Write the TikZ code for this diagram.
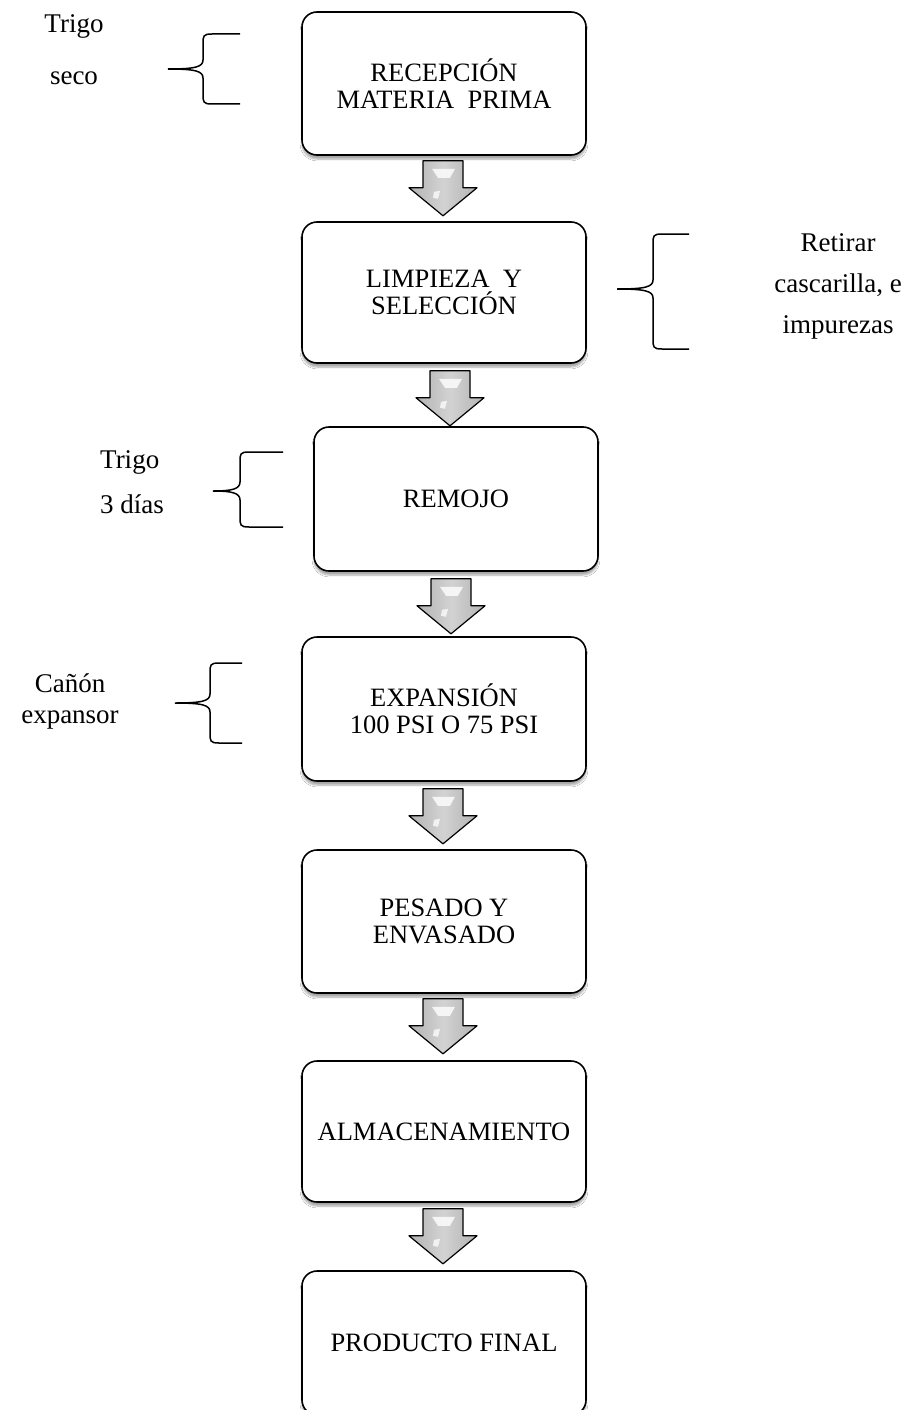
\documentclass[tikz,border=0pt]{standalone}
\usepackage{fontspec}
\setmainfont{Liberation Serif}
\usetikzlibrary{shadows.blur,calc}

% curly brace opening to the right: tip x, spine x, arm end x, top y, middle y, bottom y
\newcommand\curlybrace[6]{%
  \draw[bracestyle]
    (#3,#4) -- ($(#2,#4)+(9,0)$)
    .. controls (#2,#4) and (#2,#4+2) .. (#2,#4+10)
    -- (#2,#5-9)
    .. controls (#2,#5-2) and (#2-8,#5) .. (#1,#5)
    .. controls (#2-8,#5) and (#2,#5+2) .. (#2,#5+9)
    -- (#2,#6-10)
    .. controls (#2,#6-2) and (#2,#6) .. ($(#2,#6)+(9,0)$)
    -- (#3,#6);}

% block arrow hanging from a coordinate at its tail centre
\newcommand\blockarrow[1]{%
  \path[arrowbody] ($(#1)+(-20,0)$) -- ($(#1)+(20,0)$) -- ($(#1)+(20,27)$) -- ($(#1)+(34,27)$)
    -- ($(#1)+(0,55)$) -- ($(#1)+(-34,27)$) -- ($(#1)+(-20,27)$) -- cycle;
  \fill[white,opacity=0.8] ($(#1)+(-11,8)$) -- ($(#1)+(12,8)$) -- ($(#1)+(7,17)$) -- ($(#1)+(-5,17)$) -- cycle;
  \fill[white,opacity=0.75] ($(#1)+(-9,31)$) -- ($(#1)+(-3,30)$) -- ($(#1)+(-5,38)$) -- ($(#1)+(-10,37)$) -- cycle;}

\tikzset{
  stepbox/.style={draw=black, line width=1.6pt, rounded corners=15pt, fill=white,
    minimum width=284pt, align=center, inner sep=4pt,
    font=\fontsize{26.5}{27}\selectfont,
    blur shadow={shadow xshift=0pt, shadow yshift=-4pt, shadow blur steps=6, shadow opacity=35}},
  sidelabel/.style={align=center, inner sep=0pt},
  bracestyle/.style={draw=black, line width=1.5pt},
  arrowbody/.style={draw=black, line width=1.2pt, line join=round,
    left color=gray!60, right color=gray!60, middle color=gray!35}
}

\begin{document}
\begin{tikzpicture}[x=1pt, y=-1pt]
  \useasboundingbox (0,0) rectangle (904,1410);
  \clip (0,0) rectangle (904,1410);
  \fill[white] (0,0) rectangle (904,1410);

  % process steps
  \node[stepbox, minimum height=143pt] (b1) at (444,83.5) {RECEPCIÓN\\MATERIA\ \ PRIMA};
  \node[stepbox, minimum height=141pt] (b2) at (444,292.5) {LIMPIEZA\ \ Y\\SELECCIÓN};
  \node[stepbox, minimum height=144pt] (b3) at (456,499) {REMOJO};
  \node[stepbox, minimum height=144pt] (b4) at (444,709) {EXPANSIÓN\\100 PSI O 75 PSI};
  \node[stepbox, minimum height=143pt] (b5) at (444,921.5) {PESADO Y\\ENVASADO};
  \node[stepbox, minimum height=141pt] (b6) at (444,1131.5) {ALMACENAMIENTO};
  \node[stepbox, minimum height=144pt] (b7) at (444,1343) {PRODUCTO FINAL};

  % arrows between the steps
  \coordinate (a1) at ($(b1.south)+(-1,5)$);
  \coordinate (a2) at ($(b2.south)+(6,7)$);
  \coordinate (a3) at ($(b3.south)+(-5,7)$);
  \coordinate (a4) at ($(b4.south)+(-1,7)$);
  \coordinate (a5) at ($(b5.south)+(-1,5)$);
  \coordinate (a6) at ($(b6.south)+(-1,6)$);
  \blockarrow{a1}
  \blockarrow{a2}
  \blockarrow{a3}
  \blockarrow{a4}
  \blockarrow{a5}
  \blockarrow{a6}

  % side notes with braces
  \curlybrace{168}{203}{240}{34}{69}{104}
  \node[sidelabel, font=\fontsize{27}{52}\selectfont] (t1) at (74,50) {Trigo\\seco};

  \curlybrace{617}{653}{689}{234}{289}{349}
  \node[sidelabel, font=\fontsize{27}{41}\selectfont] (t2) at (838,286) {Retirar\\cascarilla, e\\impurezas};

  \curlybrace{213}{240}{283}{452}{491}{527}
  \node[sidelabel, align=left, anchor=west, font=\fontsize{27}{45}\selectfont] (t3) at (100,482) {Trigo\\3 días};

  \curlybrace{175}{210}{242}{663}{703}{743}
  \node[sidelabel, font=\fontsize{27}{31}\selectfont] (t4) at (70,701) {Cañón\\expansor};
\end{tikzpicture}
\end{document}
